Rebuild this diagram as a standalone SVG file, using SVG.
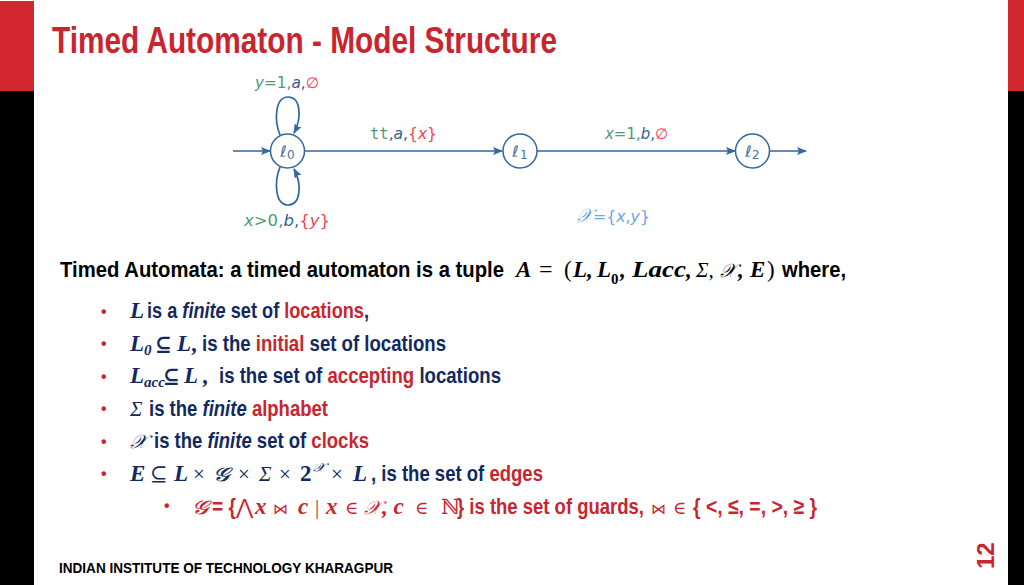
<svg xmlns="http://www.w3.org/2000/svg" width="1024" height="585" viewBox="0 0 1024 585">
<style>
.b{font-family:"Liberation Sans",Arial,sans-serif;font-weight:700;font-size:22.500px}
.n{fill:#12295f}.r{fill:#c8252f}.k{fill:#000}
.m{font-family:"Liberation Serif","DejaVu Serif",serif;font-weight:700;font-style:italic;font-size:23px}
.s{font-family:"Liberation Serif","DejaVu Serif",serif;font-weight:400;font-size:21px}
.x{font-family:"DejaVu Sans","Noto Sans",sans-serif;font-weight:400;font-size:19px}
.g{font-family:"DejaVu Sans",sans-serif;font-size:15px}
.gg{fill:#4f9a78}.gb{fill:#33608f}.gr{fill:#f2444f}.gl{fill:#6aa5e0}
.st{fill:#fff;stroke:#33679f;stroke-width:1.500}
.e{fill:none;stroke:#33679f;stroke-width:1.700;marker-end:url(#a)}
.sl{font-family:"DejaVu Sans",sans-serif;font-style:italic;font-size:16px;fill:#4a73a0}
.sub{font-family:"DejaVu Sans",sans-serif;font-size:12px;fill:#4a73a0}
</style>
<defs><marker id="a" viewBox="0 0 10 8" refX="9" refY="4" markerWidth="10" markerHeight="8" markerUnits="userSpaceOnUse" orient="auto"><path d="M0 0L10 4L0 8L2 4Z" fill="#33679f"/></marker></defs>
<rect width="1024" height="585" fill="#fff"/>
<rect x="0" y="1" width="34" height="90" fill="#d3272f"/>
<rect x="0" y="91" width="34" height="494" fill="#000"/>
<rect x="1008" y="0" width="16" height="91" fill="#d3272f"/>
<rect x="1008" y="91" width="16" height="494" fill="#000"/>
<text x="52" y="53" class="b" style="font-size:36.500px" fill="#c8252f" textLength="505" lengthAdjust="spacingAndGlyphs">Timed Automaton - Model Structure</text>
<g id="connectors">
<path class="e" d="M233 151H270"/>
<path class="e" d="M305 151H502"/>
<path class="e" d="M537 151H735"/>
<path class="e" d="M770 151H806"/>
<path class="e" d="M280 135C274 120 275 97 288 97C301 97 302 118 294 133"/>
<path class="e" d="M280 167C274 182 275 205 288 205C301 205 302 184 294 169"/>
</g>
<g id="l0"><circle class="st" cx="287.500" cy="151" r="17"/><text class="sl" x="280" y="157">ℓ</text><text class="sub" x="287" y="159">0</text></g>
<g id="l1"><circle class="st" cx="520" cy="151" r="17"/><text class="sl" x="512" y="157">ℓ</text><text class="sub" x="520" y="159">1</text></g>
<g id="l2"><circle class="st" cx="752.500" cy="151" r="17"/><text class="sl" x="745" y="157">ℓ</text><text class="sub" x="752" y="159">2</text></g>
<text class="g" x="255" y="88" textLength="64" lengthAdjust="spacingAndGlyphs"><tspan class="gg" font-style="italic">y</tspan><tspan class="gg">=1,</tspan><tspan class="gb" font-style="italic">a</tspan><tspan class="gb">,</tspan><tspan class="gr">∅</tspan></text>
<text class="g" x="244" y="226" textLength="86" lengthAdjust="spacingAndGlyphs"><tspan class="gg" font-style="italic">x</tspan><tspan class="gg">&gt;0,</tspan><tspan class="gb" font-style="italic">b</tspan><tspan class="gb">,</tspan><tspan class="gr">{</tspan><tspan class="gr" font-style="italic">y</tspan><tspan class="gr">}</tspan></text>
<text class="g" x="370" y="139" textLength="67" lengthAdjust="spacingAndGlyphs"><tspan class="gg" font-family="DejaVu Sans Mono">tt</tspan><tspan class="gb">,</tspan><tspan class="gb" font-style="italic">a</tspan><tspan class="gb">,</tspan><tspan class="gr">{</tspan><tspan class="gr" font-style="italic">x</tspan><tspan class="gr">}</tspan></text>
<text class="g" x="605" y="139" textLength="63" lengthAdjust="spacingAndGlyphs"><tspan class="gg" font-style="italic">x</tspan><tspan class="gg">=1,</tspan><tspan class="gb" font-style="italic">b</tspan><tspan class="gb">,</tspan><tspan class="gr">∅</tspan></text>
<text class="g gl" x="577" y="222" font-style="italic" style="font-size:19px" textLength="15" lengthAdjust="spacingAndGlyphs">𝒳</text>
<text class="g gl" x="593" y="222" textLength="57" lengthAdjust="spacingAndGlyphs">={<tspan font-style="italic">x</tspan>,<tspan font-style="italic">y</tspan>}</text>

<text class="b k" x="60" y="277" textLength="444" lengthAdjust="spacingAndGlyphs">Timed Automata: a timed automaton is a tuple</text>
<text class="m k" x="516" y="277">A</text><text class="s k" x="539" y="277" style="font-size:24px">=</text>
<text class="m k" x="564" y="277" style="font-style:normal;font-weight:400">(</text>
<text class="m k" x="573" y="277">L,</text><text class="m k" x="597" y="277">L</text><text class="m k" x="611" y="284" style="font-style:normal;font-size:15px">0</text><text class="m k" x="620" y="277">,</text>
<text class="m k" x="632" y="277" textLength="54" lengthAdjust="spacingAndGlyphs">Lacc</text><text class="m k" x="686" y="277">,</text>
<text class="s k" x="696" y="277" font-style="italic">Σ,</text><text class="x k" x="720" y="277" font-style="italic" textLength="16" lengthAdjust="spacingAndGlyphs">𝒳</text><text class="m k" x="738" y="277">,</text><text class="m k" x="750" y="277">E</text><text class="m k" x="767" y="277" style="font-style:normal;font-weight:400">)</text>
<text class="b k" x="782" y="277" textLength="64" lengthAdjust="spacingAndGlyphs">where,</text>

<g class="r" font-family="Liberation Sans" font-size="16" font-weight="700">
<text x="101" y="317">•</text><text x="101" y="349">•</text><text x="101" y="382">•</text><text x="101" y="414">•</text><text x="101" y="447">•</text><text x="101" y="479">•</text><text x="164" y="511">•</text>
</g>
<text class="m n" x="130" y="318">L</text>
<text class="b n" x="147" y="318" textLength="222" lengthAdjust="spacingAndGlyphs">is a <tspan font-style="italic">finite</tspan> set of <tspan class="r">locations</tspan>,</text>
<text class="m n" x="130" y="351">L<tspan font-size="15" dy="4">0</tspan></text><text class="m n" x="155" y="351" style="font-style:normal;font-size:20px">⊆</text><text class="m n" x="177" y="351">L</text><text class="m n" x="192" y="351">,</text>
<text class="b n" x="202" y="351" textLength="244" lengthAdjust="spacingAndGlyphs">is the <tspan class="r">initial</tspan> set of locations</text>
<text class="m n" x="130" y="383">L<tspan font-size="15" dy="4">acc</tspan></text><text class="m n" x="163" y="383" style="font-style:normal;font-size:20px">⊆</text><text class="m n" x="184" y="383">L</text><text class="m n" x="203" y="383">,</text>
<text class="b n" x="219" y="383" textLength="282" lengthAdjust="spacingAndGlyphs">is the set of <tspan class="r">accepting</tspan> locations</text>
<text class="s n" x="130" y="416" font-style="italic">Σ</text>
<text class="b n" x="149" y="416" textLength="179" lengthAdjust="spacingAndGlyphs">is the <tspan font-style="italic">finite</tspan> <tspan class="r">alphabet</tspan></text>
<text class="x n" x="130" y="448" font-style="italic" textLength="17" lengthAdjust="spacingAndGlyphs">𝒳</text>
<text class="b n" x="154" y="448" textLength="215" lengthAdjust="spacingAndGlyphs">is the <tspan font-style="italic">finite</tspan> set of <tspan class="r">clocks</tspan></text>
<text class="m n" x="130" y="481">E</text><text class="s n" x="150" y="481">⊆</text><text class="m n" x="174" y="481">L</text><text class="s n" x="193" y="481">×</text><text class="x n" x="213" y="481" font-weight="700" font-style="italic" textLength="16" lengthAdjust="spacingAndGlyphs">𝓖</text><text class="s n" x="238" y="481">×</text><text class="s n" x="259" y="481" font-style="italic">Σ</text><text class="s n" x="279" y="481">×</text><text class="m n" x="300" y="481" style="font-style:normal">2</text><text class="x n" x="313" y="472" font-style="italic" textLength="12" lengthAdjust="spacingAndGlyphs" style="font-size:13px">𝒳</text><text class="s n" x="331" y="481">×</text><text class="m n" x="353" y="481">L</text>
<text class="b n" x="371" y="481" textLength="172" lengthAdjust="spacingAndGlyphs">, is the set of <tspan class="r">edges</tspan></text>
<text class="x r" x="192" y="514" font-weight="700" font-style="italic" textLength="16" lengthAdjust="spacingAndGlyphs">𝓖</text>
<text class="b r" x="212" y="514" textLength="24" lengthAdjust="spacingAndGlyphs">= {</text>
<text class="s r" x="236" y="514">⋀</text><text class="m r" x="255" y="514">x</text><text class="s r" x="273" y="514" style="font-size:15px">⋈</text><text class="m r" x="298" y="514">c</text><text class="s r" x="315" y="514">|</text><text class="m r" x="326" y="514">x</text><text class="s r" x="345" y="514" style="font-size:18px">∈</text><text class="x r" x="364" y="514" font-style="italic" textLength="17" lengthAdjust="spacingAndGlyphs">𝒳</text><text class="m r" x="382" y="514">, c</text><text class="s r" x="415" y="514" style="font-size:18px">∈</text><text class="s r" x="441" y="514">ℕ</text>
<text class="b r" x="457" y="514" textLength="187" lengthAdjust="spacingAndGlyphs">} is the set of guards,</text>
<text class="s r" x="651" y="514" style="font-size:15px">⋈</text><text class="s r" x="673" y="514" style="font-size:18px">∈</text>
<text class="b r" x="693" y="514" textLength="124" lengthAdjust="spacingAndGlyphs">{ &lt;, ≤, =, &gt;, ≥ }</text>
<text class="b k" x="59" y="573" style="font-size:15.500px" textLength="334" lengthAdjust="spacingAndGlyphs">INDIAN INSTITUTE OF TECHNOLOGY KHARAGPUR</text>
<text class="b r" transform="translate(994 569) rotate(-90)" style="font-size:24px">12</text>
</svg>
